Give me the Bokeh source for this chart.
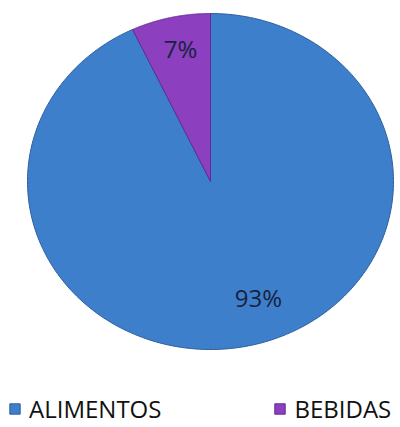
import numpy as np
from bokeh.plotting import figure
from bokeh.models import Range1d, Legend, LegendItem, ColumnDataSource
from bokeh.core.properties import value
from bokeh.embed import file_html
from bokeh.resources import INLINE

# ---- data ----
categories = ["ALIMENTOS", "BEBIDAS"]
shares = [93, 7]
labels = ["93%", "7%"]
colors = ["#3E7FCB", "#8C3FBF"]
edge_colors = ["#2D609E", "#66298F"]

W, H = 400, 427
p = figure(width=W, height=H, output_backend="svg", toolbar_location=None,
           x_range=Range1d(0, W), y_range=Range1d(H, 0))
p.axis.visible = False
p.grid.visible = False
p.outline_line_color = None
p.background_fill_color = "white"
p.border_fill_color = "white"
p.min_border = 0

cx, cy, rx, ry = 210, 181, 183, 168

vals = np.array(shares, dtype=float)
frac = vals / vals.sum()
# clockwise from 12 o'clock
ends = np.pi / 2 - np.cumsum(frac) * 2 * np.pi
starts = np.concatenate([[np.pi / 2], ends[:-1]])

xs, ys = [], []
for s, e in zip(starts, ends):
    t = np.linspace(s, e, 240)
    xs.append(np.concatenate([[cx], cx + rx * np.cos(t), [cx]]))
    ys.append(np.concatenate([[cy], cy - ry * np.sin(t), [cy]]))

renderers = []
for i in range(len(categories)):
    r = p.patch(xs[i], ys[i], fill_color=colors[i], line_color=edge_colors[i],
                line_width=1)
    renderers.append(r)

# labels near the middle angle of each slice
mids = (starts + ends) / 2
lab_frac = [0.738, 0.809]
ang_shift = [0.143, -0.016]
lx = [cx + f * rx * np.cos(m + a) for m, f, a in zip(mids, lab_frac, ang_shift)]
ly = [cy - f * ry * np.sin(m + a) for m, f, a in zip(mids, lab_frac, ang_shift)]
src = ColumnDataSource(dict(x=lx, y=ly, t=labels))
p.text(x="x", y="y", text="t", source=src, text_align="center",
       text_baseline="middle", text_font=value("Open Sans"),
       text_font_size="24px", text_color="#18223F")

legend = Legend(items=[LegendItem(label=c, renderers=[r]) for c, r in zip(categories, renderers)],
                orientation="horizontal", location=(8, 2),
                label_text_font="Open Sans", label_text_font_size="24px",
                label_text_color="#111111", glyph_width=13, glyph_height=13,
                label_standoff=8, spacing=112, padding=0, margin=0,
                border_line_color=None, background_fill_alpha=0)
p.add_layout(legend, "center")

open("out.html", "w").write(file_html(p, INLINE))
